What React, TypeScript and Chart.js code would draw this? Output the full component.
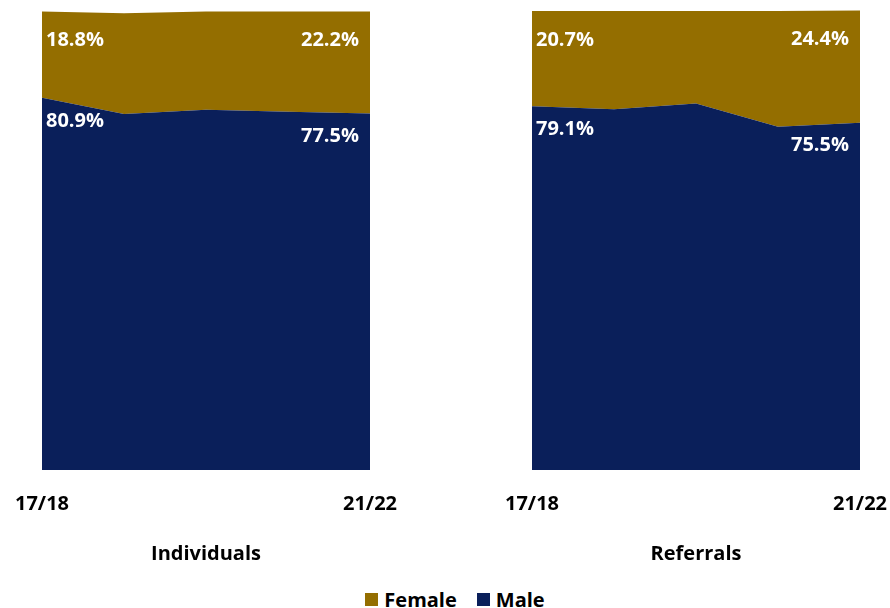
import React, { useEffect, useRef } from "react";
import { Chart, registerables } from "chart.js";

Chart.register(...registerables);

const years = ["17/18", "18/19", "19/20", "20/21", "21/22"];
const individualsMale = [80.9, 77.4, 78.3, 77.9, 77.5];
const individualsFemale = [18.8, 21.9, 21.4, 21.8, 22.2];
const referralsMale = [79.1, 78.4, 79.7, 74.6, 75.5];
const referralsFemale = [20.7, 21.4, 20.1, 25.2, 24.4];

const FEMALE = "#946E00";
const MALE = "#0A1F5A";
const FONT = "'Open Sans', 'DejaVu Sans', sans-serif";

const labelPlugin = {
  id: "endLabels",
  afterDatasetsDraw(chart: any) {
    const ctx = chart.ctx;
    const area = chart.chartArea;
    ctx.save();
    ctx.fillStyle = "#ffffff";
    ctx.font = `bold 20px ${FONT}`;
    ctx.textBaseline = "middle";
    chart.data.datasets.forEach((ds: any, di: number) => {
      const meta = chart.getDatasetMeta(di);
      const last = meta.data.length - 1;
      [0, last].forEach((idx) => {
        const pt = meta.data[idx];
        const text = Number(ds.data[idx]).toFixed(1) + "%";
        const y = pt.y + (di === 0 ? 23 : 29);
        if (idx === 0) {
          ctx.textAlign = "left";
          ctx.fillText(text, area.left + 4, y);
        } else {
          ctx.textAlign = "right";
          ctx.fillText(text, area.right - 11, y);
        }
      });
    });
    ctx.restore();
  },
};

function Panel(props: {
  title: string;
  male: number[];
  female: number[];
  padLeft: number;
  padRight: number;
  left: number;
}) {
  const ref = useRef<HTMLCanvasElement>(null);
  useEffect(() => {
    if (!ref.current) return;
    const chart = new Chart(ref.current, {
      type: "line",
      data: {
        labels: years,
        datasets: [
          {
            label: "Male",
            data: props.male,
            backgroundColor: MALE,
            borderColor: MALE,
            borderWidth: 0,
            pointRadius: 0,
            fill: "origin",
            tension: 0,
          },
          {
            label: "Female",
            data: props.female,
            backgroundColor: FEMALE,
            borderColor: FEMALE,
            borderWidth: 0,
            pointRadius: 0,
            fill: "-1",
            tension: 0,
          },
        ],
      },
      options: {
        responsive: false,
        animation: false,
        devicePixelRatio: 1,
        layout: {
          padding: { top: 10, left: props.padLeft, right: props.padRight, bottom: 0 },
        },
        plugins: {
          legend: { display: false },
          tooltip: { enabled: false },
        },
        scales: {
          x: {
            type: "category",
            offset: false,
            grid: { display: false, drawTicks: false },
            border: { display: false },
            ticks: {
              autoSkip: false,
              maxRotation: 0,
              padding: 22,
              color: "#000000",
              font: { family: FONT, size: 20, weight: "bold" },
              callback: (_v: any, i: number) =>
                i === 0 || i === years.length - 1 ? years[i] : "",
            },
            title: {
              display: true,
              text: props.title,
              color: "#000000",
              font: { family: FONT, size: 20, weight: "bold" },
              padding: { top: 0, bottom: 9 },
            },
            afterFit: (scale: any) => {
              scale.height = 105;
              scale.paddingLeft = 0;
              scale.paddingRight = 0;
            },
          },
          y: {
            display: false,
            stacked: true,
            min: 0,
            max: 100,
          },
        },
      },
      plugins: [labelPlugin],
    } as any);
    return () => chart.destroy();
  }, []);
  return (
    <canvas
      ref={ref}
      width={445}
      height={575}
      style={{ position: "absolute", left: props.left, top: 0, width: 445, height: 575 }}
    />
  );
}

export default function App() {
  const legendItem = (color: string, text: string) => (
    <div style={{ display: "flex", alignItems: "center", marginRight: 20 }}>
      <div style={{ width: 13, height: 13, background: color, marginRight: 6 }} />
      <span style={{ fontFamily: FONT, fontWeight: 700, fontSize: 20, color: "#000" }}>{text}</span>
    </div>
  );
  return (
    <div
      style={{
        position: "fixed",
        left: 0,
        top: 0,
        width: 890,
        height: 608,
        background: "#ffffff",
        overflow: "hidden",
      }}
    >
      <Panel title="Individuals" male={individualsMale} female={individualsFemale} padLeft={42} padRight={75} left={0} />
      <Panel title="Referrals" male={referralsMale} female={referralsFemale} padLeft={87} padRight={30} left={445} />
      <div
        style={{
          position: "absolute",
          left: 0,
          top: 585,
          width: 890,
          height: 28,
          display: "flex",
          justifyContent: "center",
          alignItems: "center",
          paddingLeft: 40,
          boxSizing: "border-box",
        }}
      >
        {legendItem(FEMALE, "Female")}
        {legendItem(MALE, "Male")}
      </div>
    </div>
  );
}
